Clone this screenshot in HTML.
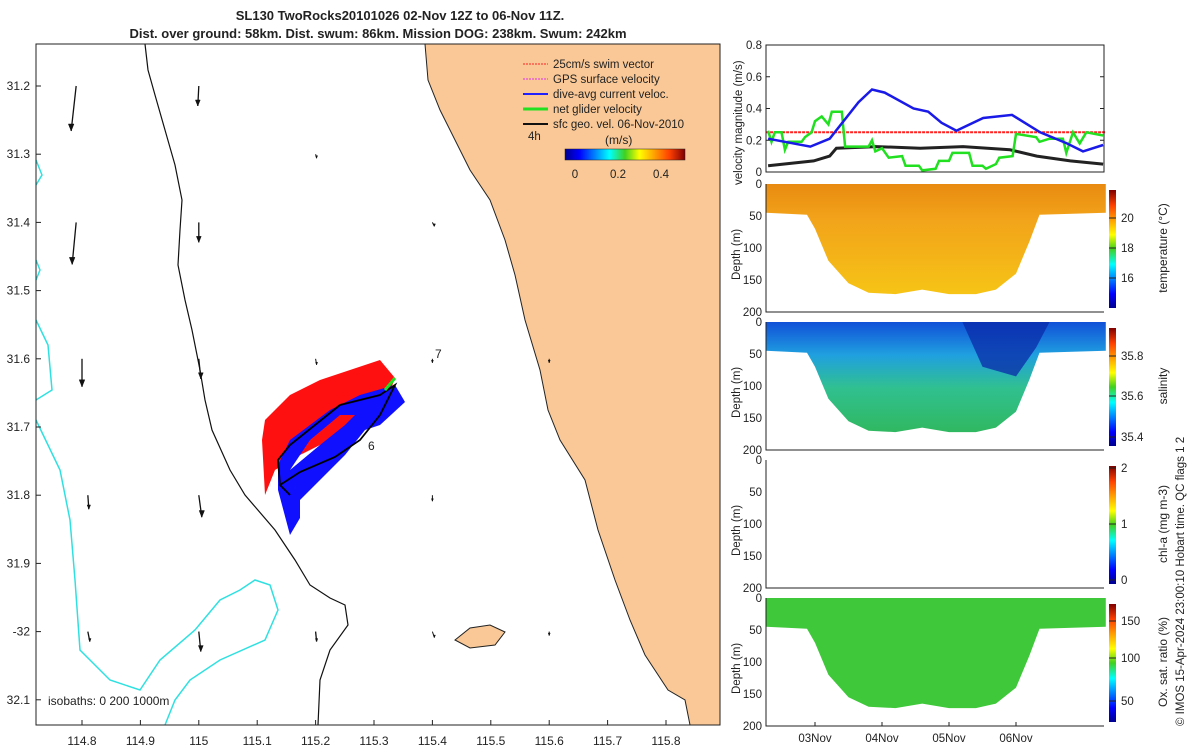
<!DOCTYPE html>
<html><head><meta charset="utf-8"><style>
body{margin:0;background:#fff;font-family:"Liberation Sans",sans-serif}
svg text{font-family:"Liberation Sans","DejaVu Sans",sans-serif;fill:#222}
</style></head><body>
<svg id="root" width="1200" height="750" xmlns="http://www.w3.org/2000/svg">
<defs>
<linearGradient id="jet" x1="0" y1="1" x2="0" y2="0">
<stop offset="0" stop-color="#00008f"/><stop offset="0.12" stop-color="#0000ff"/><stop offset="0.37" stop-color="#00ffff"/><stop offset="0.5" stop-color="#40d020"/><stop offset="0.62" stop-color="#ffff00"/><stop offset="0.87" stop-color="#ff4000"/><stop offset="1" stop-color="#800000"/>
</linearGradient>
<linearGradient id="jeth" x1="0" y1="0" x2="1" y2="0">
<stop offset="0" stop-color="#00008f"/><stop offset="0.12" stop-color="#0000ff"/><stop offset="0.37" stop-color="#00ffff"/><stop offset="0.5" stop-color="#40d020"/><stop offset="0.62" stop-color="#ffff00"/><stop offset="0.87" stop-color="#ff4000"/><stop offset="1" stop-color="#800000"/>
</linearGradient>
<linearGradient id="tempg" x1="0" y1="0" x2="0" y2="1">
<stop offset="0" stop-color="#e88a10"/><stop offset="0.3" stop-color="#f2a21a"/><stop offset="1" stop-color="#f6c416"/>
</linearGradient>
<linearGradient id="salg" x1="0" y1="0" x2="0" y2="1">
<stop offset="0" stop-color="#1050d8"/><stop offset="0.3" stop-color="#20a0e0"/><stop offset="0.6" stop-color="#30c090"/><stop offset="1" stop-color="#30b860"/>
</linearGradient>
</defs>
<text x="400" y="20" text-anchor="middle" font-size="13" font-weight="bold">SL130 TwoRocks20101026 02-Nov 12Z to 06-Nov 11Z.</text>
<text x="378" y="38" text-anchor="middle" font-size="13" font-weight="bold">Dist. over ground: 58km. Dist. swum: 86km. Mission DOG: 238km. Swum: 242km</text>

<g id="map">
<rect x="36" y="44" width="684" height="681" fill="#fff"/>
<path fill="#f9c896" stroke="#222" stroke-width="1" d="M425,44 L428,80 L440,110 L470,170 L490,200 L505,240 L515,275 L525,320 L540,370 L548,410 L560,440 L585,480 L598,530 L615,580 L630,620 L645,655 L668,690 L685,700 L690,725 L720,725 L720,44 Z"/>
<path fill="#f9c896" stroke="#222" d="M455,640 L470,628 L490,625 L505,632 L495,645 L470,648 Z"/>
<path fill="none" stroke="#111" stroke-width="1.2" d="M145,44 L148,70 L155,95 L165,130 L175,165 L182,200 L180,230 L178,265 L185,300 L192,330 L200,370 L205,400 L212,430 L230,470 L245,495 L275,530 L295,560 L310,585 L330,598 L345,605 L348,625 L330,650 L320,680 L318,725"/>
<path fill="none" stroke="#30e0e0" stroke-width="1.5" d="M36,160 L42,175 L36,185 M36,260 L40,270 L36,280 M36,320 L48,345 L52,390 L36,400 M36,420 L60,470 L70,520 L75,580 L80,650 L110,680 L140,690 L160,660 L195,630 L220,600 L240,590 L255,580 L270,585 L278,610 L265,640 L220,660 L190,680 L175,700 L165,725"/>
<g id="arrows" stroke="#111" stroke-width="1.3" fill="#111"></g>
<path fill="#ff1010" d="M262,440 L265,420 L290,395 L320,380 L350,370 L380,360 L395,378 L385,405 L360,425 L330,440 L300,455 L275,470 L265,495 Z"/>
<path fill="#1010ff" d="M278,490 L278,465 L290,440 L330,410 L360,395 L395,385 L405,402 L380,425 L365,430 L345,455 L320,480 L300,500 L300,518 L290,535 Z M290,470 L320,445 L345,425 L355,415 L340,415 L310,440 Z"/>
<path fill="none" stroke="#000" stroke-width="1.8" d="M280,485 L278,460 L290,445 L340,405 L380,395 L395,385 L380,415 L360,440 L335,457 L300,472 L280,485 L290,495"/>
<path stroke="#20e020" stroke-width="3" d="M385,390 L395,378"/>
<text x="435" y="358" font-size="12">7</text>
<text x="368" y="450" font-size="12">6</text>
<rect x="36" y="44" width="684" height="681" fill="none" stroke="#222"/>
<g id="mapticks" font-size="12"></g>
<text x="48" y="705" font-size="12">isobaths: 0   200  1000m</text>
<g font-size="11.5">
<line x1="523" y1="64" x2="548" y2="64" stroke="#ff2020" stroke-dasharray="2 1"/><text x="553" y="68">25cm/s swim vector</text>
<line x1="523" y1="79" x2="548" y2="79" stroke="#e030e0" stroke-dasharray="2 1"/><text x="553" y="83">GPS surface velocity</text>
<line x1="523" y1="94" x2="548" y2="94" stroke="#2020ff" stroke-width="2"/><text x="553" y="98">dive-avg current veloc.</text>
<line x1="523" y1="109" x2="548" y2="109" stroke="#20e020" stroke-width="3"/><text x="553" y="113">net glider velocity</text>
<line x1="523" y1="124" x2="548" y2="124" stroke="#111" stroke-width="2"/><text x="553" y="128">sfc geo. vel. 06-Nov-2010</text>
<text x="528" y="140">4h</text><text x="605" y="144" font-size="12">(m/s)</text>
<rect x="565" y="149" width="120" height="11" fill="url(#jeth)" stroke="#222" stroke-width="0.5"/>
<text x="575" y="178" text-anchor="middle">0</text><text x="618" y="178" text-anchor="middle">0.2</text><text x="661" y="178" text-anchor="middle">0.4</text>
</g>
</g>

<g id="right"></g>
<text transform="translate(1184,726) rotate(-90)" font-size="11.5">© IMOS 15-Apr-2024 23:00:10 Hobart time. QC flags 1  2</text>
</svg>
<script>
const NS="http://www.w3.org/2000/svg";
function mk(tag,attrs,parent,txt){const e=document.createElementNS(NS,tag);for(const k in attrs)e.setAttribute(k,attrs[k]);if(txt!==undefined)e.textContent=txt;parent.appendChild(e);return e;}

const mapXTicks=["114.8","114.9","115","115.1","115.2","115.3","115.4","115.5","115.6","115.7","115.8"];
const mapYTicks=["31.2","31.3","31.4","31.5","31.6","31.7","31.8","31.9","-32","32.1"];
const mapLon=v=>82+(v-114.8)*584;
const mapLat=i=>86+i*68.2;
const mt=document.getElementById('mapticks');
mapXTicks.forEach(l=>{const x=mapLon(parseFloat(l));
 const t=mk('text',{x:x,y:745,'text-anchor':'middle','font-size':12},mt,l);
 
 
 mk('line',{x1:x,y1:725,x2:x,y2:720,stroke:'#222'},mt);});
mapYTicks.forEach((l,i)=>{const y=mapLat(i);
 const t=mk('text',{x:30,y:y+4,'text-anchor':'end','font-size':12},mt,l);
 
 
 mk('line',{x1:36,y1:y,x2:41,y2:y,stroke:'#222'},mt);});

const arrowLon=[114.79,114.79,114.8,114.81,114.81,115.0,115.0,115.0,115.0,115.0,115.2,115.2,115.2,115.4,115.4,115.4,115.4,115.6,115.6];
const arrowRow=[0,2,4,6,8,0,2,4,6,8,1,4,8,2,4,6,8,4,8];
const arrowDX=[-5,-4,0,1,2,-1,0,2,3,2,1,1,1,2,0,0,2,0,0];
const arrowDY=[45,42,28,14,10,20,20,20,22,20,4,6,10,4,4,6,6,4,4];
const ag=document.getElementById('arrows');
arrowLon.forEach((lo,i)=>{const x=mapLon(lo),y=mapLat(arrowRow[i]);
 const x2=x+arrowDX[i],y2=y+arrowDY[i];
 const L=Math.hypot(arrowDX[i],arrowDY[i]);const h=Math.min(7,Math.max(2.5,L*0.3)),w=h*0.4;
 const l=mk('line',{x1:x,y1:y,x2:x2,y2:y2,'stroke-width':L<8?1:1.3},ag);
 
 
 mk('path',{d:`M${x2-w},${y2-h} L${x2},${y2} L${x2+w},${y2-h} Z`,'stroke-width':0.5},ag);});

const R=document.getElementById('right');
const PX0=766,PX1=1104,DAY=67,D03=815;
const tx=t=>D03+t*DAY;
const dayLabels=["03Nov","04Nov","05Nov","06Nov"];
const blueT=[-0.7,-0.07,0.22,0.65,0.85,1.04,1.47,1.69,1.89,2.11,2.51,2.94,3.36,3.76,4.0,4.3];
const blueV=[0.21,0.16,0.21,0.44,0.52,0.5,0.4,0.38,0.31,0.26,0.34,0.36,0.25,0.18,0.13,0.17];
const blackT=[-0.7,-0.02,0.22,0.32,0.92,1.57,2.21,2.91,3.31,3.81,4.3];
const blackV=[0.04,0.07,0.1,0.15,0.16,0.15,0.16,0.14,0.1,0.07,0.05];
const greenT=[-0.7,-0.65,-0.6,-0.5,-0.45,-0.4,-0.2,-0.15,-0.05,0.0,0.1,0.2,0.25,0.4,0.45,0.8,0.85,0.9,1.0,1.1,1.3,1.35,1.55,1.6,1.8,1.85,2.0,2.05,2.3,2.35,2.5,2.55,2.7,2.75,2.95,3.0,3.3,3.35,3.5,3.7,3.75,3.85,3.95,4.05,4.3];
const greenV=[0.26,0.19,0.25,0.25,0.14,0.19,0.19,0.22,0.25,0.32,0.35,0.3,0.38,0.38,0.16,0.16,0.2,0.13,0.15,0.09,0.1,0.04,0.04,0.01,0.02,0.07,0.07,0.12,0.12,0.04,0.04,0.02,0.05,0.09,0.1,0.24,0.22,0.19,0.21,0.21,0.12,0.25,0.18,0.25,0.23];
const swimV=0.25;
const velTicks=[0,0.2,0.4,0.6,0.8];
const VY0=172,VY1=45;
const vy=v=>VY0-(v/0.8)*(VY0-VY1);
function line(ts,vs,attrs,name){const d=ts.map((t,i)=>(i?'L':'M')+tx(t).toFixed(1)+','+vy(vs[i]).toFixed(1)).join(' ');
 const p=mk('path',Object.assign({d:d,fill:'none'},attrs),R);
 
 }
line([-0.73,4.34],[swimV,swimV],{stroke:'#ff2020','stroke-width':2,'stroke-dasharray':'3 1'},'swim-speed-line');
line(blackT,blackV,{stroke:'#222','stroke-width':3},'geostrophic-speed-line');
line(greenT,greenV,{stroke:'#20e020','stroke-width':2.5},'net-glider-speed-line');
line(blueT,blueV,{stroke:'#1a1ae8','stroke-width':2.5},'current-speed-line');
mk('rect',{x:PX0,y:VY1,width:PX1-PX0,height:VY0-VY1,fill:'none',stroke:'#222'},R);
velTicks.forEach(v=>{const y=vy(v);
 const t=mk('text',{x:762,y:y+4,'text-anchor':'end','font-size':11.5},R,String(v));
 
 
 mk('line',{x1:PX0,y1:y,x2:PX0+4,y2:y,stroke:'#222'},R);mk('line',{x1:PX1,y1:y,x2:PX1-4,y2:y,stroke:'#222'},R);});
const vt=mk('text',{transform:'translate(742,185) rotate(-90)','font-size':11.5},R,'velocity magnitude (m/s)');



const bottomT=[-0.73,-0.12,0.0,0.2,0.5,0.8,1.2,1.6,2.0,2.4,2.7,3.0,3.2,3.35,4.34];
const bottomD=[45,48,70,120,155,170,172,165,172,172,165,140,90,48,45];
const depthTicks=[0,50,100,150,200];
const panels=[
 {y0:184,name:'temperature',fill:'url(#tempg)',label:'temperature (°C)',cb:[[16,278],[18,248],[20,218]],show:true},
 {y0:322,name:'salinity',fill:'url(#salg)',label:'salinity',cb:[[35.4,437],[35.6,396],[35.8,356]],show:true},
 {y0:460,name:'chlorophyll',fill:'none',label:'chl-a (mg m-3)',cb:[[0,580],[1,524],[2,468]],show:false},
 {y0:598,name:'oxygen',fill:'#3ec83a',label:'Ox. sat. ratio (%)',cb:[[50,701],[100,658],[150,621]],show:true}];
panels.forEach(p=>{const H=128;const dy=d=>p.y0+d/200*H;
 if(p.show){let d='M'+tx(-0.73)+','+p.y0+' L'+tx(4.34)+','+p.y0;
  for(let i=bottomT.length-1;i>=0;i--)d+=' L'+tx(bottomT[i]).toFixed(1)+','+dy(bottomD[i]).toFixed(1);
  d+='Z';const s=mk('path',{d:d,fill:p.fill},R);
  
  
  if(p.name==='salinity'){mk('path',{d:`M${tx(2.2)},${p.y0} L${tx(3.5)},${p.y0} L${tx(3.3)},${dy(40)} L${tx(3.0)},${dy(85)} L${tx(2.5)},${dy(70)} Z`,fill:'#0a2aa8',opacity:0.75},R);}
 }
 mk('path',{d:`M${PX0},${p.y0} L${PX0},${p.y0+H} L${PX1},${p.y0+H}`,fill:'none',stroke:'#222'},R);
 depthTicks.forEach(v=>{const t=mk('text',{x:762,y:dy(v)+4,'text-anchor':'end','font-size':11.5},R,String(v));
  
  });
 const dt=mk('text',{transform:`translate(740,${p.y0+96}) rotate(-90)`,'font-size':11.5},R,'Depth (m)');
 
 
 const cbTop=p.y0+6,cbH=H-10;
 const cb=mk('rect',{x:1109,y:cbTop,width:7,height:cbH,fill:'url(#jet)'},R);
 
 
 p.cb.forEach(c=>{const t=mk('text',{x:1121,y:c[1]+4,'font-size':11.5},R,String(c[0]));
  
  
  mk('line',{x1:1109,y1:c[1],x2:1116,y2:c[1],stroke:'#222'},R);});
 const ct=mk('text',{transform:`translate(1167,${p.y0+H/2}) rotate(-90)`,'font-size':12,'text-anchor':'middle'},R,p.label);
 
 
});
dayLabels.forEach((l,i)=>{const t=mk('text',{x:tx(i),y:742,'text-anchor':'middle','font-size':11.5},R,l);
 
 
 mk('line',{x1:tx(i),y1:726,x2:tx(i),y2:722,stroke:'#222'},R);});
</script>
</body></html>
